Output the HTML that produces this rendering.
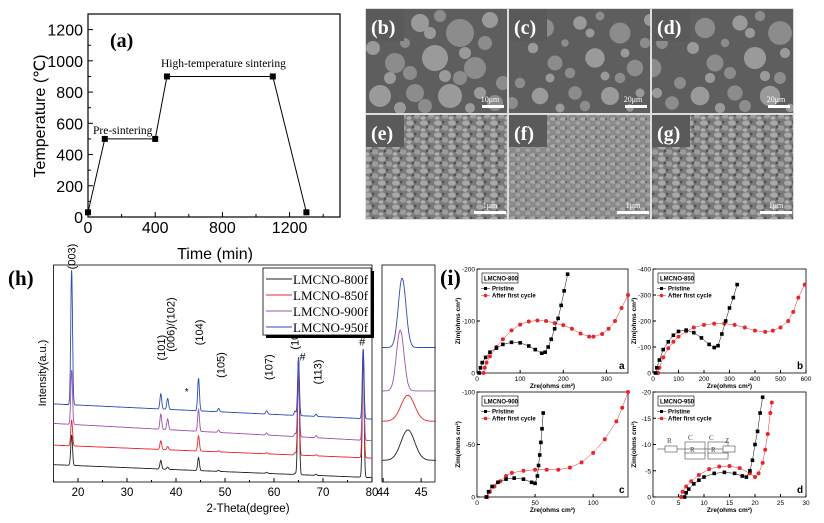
<!DOCTYPE html>
<html><head><meta charset="utf-8"><style>
html,body{margin:0;padding:0;background:#fff}
svg{display:block}
text{font-family:"Liberation Sans",sans-serif}
.serif{font-family:"Liberation Serif",serif}
</style></head><body>
<svg id="fig" width="824" height="523" viewBox="0 0 824 523" xmlns="http://www.w3.org/2000/svg">
<defs>
<pattern id="grain" width="14" height="12" patternUnits="userSpaceOnUse">
<rect width="14" height="12" fill="#7a7a7a"/>
<ellipse cx="4" cy="3" rx="4" ry="2.6" fill="#a8a8a8"/>
<ellipse cx="11" cy="8" rx="3.5" ry="2.8" fill="#9c9c9c"/>
<ellipse cx="3" cy="10" rx="2.5" ry="1.8" fill="#b0b0b0"/>
<circle cx="9" cy="2" r="1.5" fill="#555"/>
<circle cx="7" cy="7" r="1.3" fill="#505050"/>
</pattern>
<pattern id="grain2" width="10" height="9" patternUnits="userSpaceOnUse">
<rect width="10" height="9" fill="#8a8a8a"/>
<ellipse cx="3" cy="2" rx="3" ry="1.8" fill="#aaa"/>
<ellipse cx="8" cy="6" rx="2.5" ry="2" fill="#a3a3a3"/>
<circle cx="6" cy="2" r="1" fill="#5a5a5a"/>
</pattern>
</defs>
<g id="pa"></g>
<g id="sem"></g>
<g id="ph"></g>
<g id="pi"></g>
</svg>
<script>
// ---- Panel (a) data ----
const tempTime=[0,100,400,470,1100,1300];
const tempVal=[30,500,500,900,900,30];
const aXTicks=[0,400,800,1200];
const aYTicks=[0,200,400,600,800,1000,1200];
// ---- Panel (h) data ----
const xrdSeries=['LMCNO-800f','LMCNO-850f','LMCNO-900f','LMCNO-950f'];
const xrdColors=['#222','#e8262b','#a050b0','#2b4bb8'];
const xrdBaseStart=[0.08,0.17,0.27,0.36];
const xrdBaseEnd=[0.02,0.11,0.19,0.29];
const xrdPeakPos=[18.7,36.9,38.3,44.6,48.7,58.5,64.3,65.0,68.6,78.2];
const xrdPeaks800=[0.14,0.04,0.01,0.06,0.005,0.005,0.005,0.53,0.005,0.57];
const xrdPeaks850=[0.12,0.04,0.015,0.07,0.005,0.005,0.01,0.45,0.005,0.50];
const xrdPeaks900=[0.25,0.07,0.05,0.10,0.01,0.01,0.015,0.36,0.01,0.42];
const xrdPeaks950=[0.62,0.07,0.05,0.15,0.015,0.015,0.02,0.27,0.01,0.32];
const xrdTicks=[20,30,40,50,60,70,80];
const hklLabels=['(003)','(101)','(006)/(102)','(104)','(105)','(107)','(108)/(110)','(113)'];
const hklPos=[18.7,36.9,38.9,44.7,49.1,58.9,64.2,68.9];
const hklTop=[0.98,0.56,0.60,0.63,0.48,0.47,0.61,0.45];
const insetCenters=[44.65,44.65,44.45,44.5];
const insetBase=[0.10,0.28,0.42,0.62];
const insetHeights=[0.14,0.12,0.28,0.32];
// ---- Panel (i) data ----
const eisNames=['LMCNO-800','LMCNO-850','LMCNO-900','LMCNO-950'];
const eisLetters=['a','b','c','d'];
const eisXMax=[350,600,130,30];
const eisYMax=[200,400,100,20];
const eisXTicks=[[0,100,200,300],[0,100,200,300,400,500,600],[0,50,100],[0,5,10,15,20,25,30]];
const eisYTicks=[[0,-100,-200],[0,-100,-200,-300,-400],[0,-50,-100],[0,-5,-10,-15,-20]];
const pristineA=[[5,0],[8,10],[12,20],[20,30],[30,40],[45,48],[60,55],[80,59],[100,58],[120,52],[135,45],[150,38],[158,40],[165,50],[172,65],[180,85],[188,105],[195,130],[202,158],[210,190]];
const cycledA=[[15,0],[18,10],[22,20],[30,32],[45,50],[60,65],[80,82],[100,93],[120,99],[140,101],[160,100],[180,96],[200,92],[220,85],[240,76],[260,70],[270,70],[290,75],[305,85],[320,100],[335,125],[350,150]];
const pristineB=[[10,0],[15,20],[25,50],[40,90],[60,120],[80,145],[100,160],[130,165],[160,155],[190,135],[220,110],[240,98],[255,105],[270,150],[285,200],[300,250],[315,290],[330,340]];
const cycledB=[[20,0],[25,20],[40,60],[60,95],[80,120],[100,140],[130,160],[160,175],[200,185],[240,190],[280,190],[320,185],[360,175],[400,163],[440,158],[470,163],[500,175],[530,200],[550,235],[570,290],[595,340]];
const pristineC=[[8,0],[10,5],[13,10],[18,14],[25,17],[32,18],[40,17],[47,14],[50,13],[52,20],[53,30],[54,40],[55,52],[56,65],[57,80]];
const cycledC=[[9,0],[11,5],[15,10],[20,15],[25,20],[30,23],[40,25],[50,26],[60,26],[70,26],[80,28],[90,33],[100,42],[110,55],[120,72],[125,85],[130,100]];
const pristineD=[[6.2,0],[6.5,0.8],[7,1.5],[8,2.5],[9,3.2],[10,3.8],[12,4.5],[14,4.7],[16,4.5],[17.5,4],[18.3,3.8],[19,5],[19.5,7],[20,10],[20.5,12.5],[21,16],[21.5,19]];
const cycledD=[[5.5,0],[5.8,1],[6.5,2],[7.5,3],[9,4.2],[11,5.3],[13,5.8],[15,5.9],[17,5.5],[19,4.5],[20,3.8],[20.7,4.5],[21.5,6.5],[22,9],[22.5,12],[23,16],[23.3,18]];
const eisPristine=[pristineA,pristineB,pristineC,pristineD];
const eisCycled=[cycledA,cycledB,cycledC,cycledD];

const NS='http://www.w3.org/2000/svg';
function mk(parent,tag,attrs,txt){const e=document.createElementNS(NS,tag);for(const k in attrs)e.setAttribute(k,attrs[k]);if(txt!==undefined)e.textContent=txt;parent.appendChild(e);return e;}

// ===== Panel (a) =====
(function(){
const g=document.getElementById('pa');
const L=88,R=340,T=14,B=217;
const sx=v=>L+(v/1500)*(R-L), sy=v=>B-(v/1300)*(B-T);
let r=mk(g,'rect',{x:L,y:T,width:R-L,height:B-T,fill:'none',stroke:'#000','stroke-width':1.2});

for(let v=0;v<=1400;v+=200){mk(g,'line',{x1:sx(v),x2:sx(v),y1:B,y2:B+(v%400===0?-5:-3),stroke:'#000'});}
aXTicks.forEach(v=>{const t=mk(g,'text',{x:sx(v),y:B+16,'font-size':16,'text-anchor':'middle'},v);});
for(let v=0;v<=1300;v+=100){mk(g,'line',{x1:L,x2:L+(v%200===0?5:3),y1:sy(v),y2:sy(v),stroke:'#000'});}
aYTicks.forEach(v=>{const t=mk(g,'text',{x:L-5,y:sy(v)+6,'font-size':16,'text-anchor':'end'},v);});
let pts=tempTime.map((t,i)=>sx(t)+','+sy(tempVal[i])).join(' ');
let pl=mk(g,'polyline',{points:pts,fill:'none',stroke:'#000','stroke-width':1});

tempTime.forEach((t,i)=>{const m=mk(g,'rect',{x:sx(t)-3,y:sy(tempVal[i])-3,width:6,height:6,fill:'#000'});});
let t1=mk(g,'text',{x:110,y:47,'font-size':20,'font-weight':'bold',class:'serif'},'(a)');
let t2=mk(g,'text',{x:93,y:134,'font-size':11.5,class:'serif'},'Pre-sintering');
let t3=mk(g,'text',{x:161,y:67,'font-size':11.5,class:'serif'},'High-temperature sintering');
let t4=mk(g,'text',{x:215,y:259,'font-size':16,'text-anchor':'middle'},'Time (min)');
let t5=mk(g,'text',{x:0,y:0,'font-size':16,'text-anchor':'middle',transform:'translate(45,116) rotate(-90)'},'Temperature (\u2103)');
})();

// ===== SEM images =====
(function(){
const g=document.getElementById('sem');
const X0=365,Y0=8,W=143,H=106;
const labels=[['(b)','(c)','(d)'],['(e)','(f)','(g)']];
const scales=[['10\u03bcm','20\u03bcm','20\u03bcm'],['1\u03bcm','1\u03bcm','1\u03bcm']];
const blobs=[[20,20,12],[55,15,9],[95,25,14],[125,12,8],[30,55,10],[70,50,13],[110,60,11],[15,88,11],[50,85,9],[85,88,12],[130,95,8],[65,25,6],[40,35,5],[100,45,6],[120,35,7],[25,70,6],[95,70,7],[8,40,7],[45,65,7],[80,68,6],[138,75,7],[115,85,6],[60,98,7],[35,100,6],[75,8,6],[105,100,5]];
for(let r=0;r<2;r++)for(let c=0;c<3;c++){
 const x=X0+c*W,y=Y0+r*H;
 const p=mk(g,'g',{});
 if(r===0){mk(p,'rect',{x:x,y:y,width:W,height:H,fill:'#5e5e5e'});
  const cp=mk(p,'clipPath',{id:'sc'+c});mk(cp,'rect',{x:x,y:y,width:W,height:H});
  const gg=mk(p,'g',{'clip-path':'url(#sc'+c+')'});
  blobs.forEach((b,i)=>{const s=c===1?0.75:(c===2?0.85:1);mk(gg,'circle',{cx:x+((b[0]+c*17)%W),cy:y+b[1],r:b[2]*s,fill:i%2?'#9a9a9a':'#8c8c8c'});});
 } else mk(p,'rect',{x:x,y:y,width:W,height:H,fill:c===1?'url(#grain2)':'url(#grain)'});
 mk(p,'rect',{x:x+0.5,y:y+0.5,width:W-1,height:H-1,fill:'none',stroke:'#ddd','stroke-width':1});
 mk(p,'rect',{x:x+1,y:y+1,width:38,height:32,fill:'#5a5a5a'});
 mk(p,'text',{x:x+6,y:y+26,'font-size':20,'font-weight':'bold',fill:'#fff',class:'serif'},labels[r][c]);
 mk(p,'text',{x:x+W-18,y:y+H-12,'font-size':8,fill:'#fff','text-anchor':'middle',class:'serif'},scales[r][c]);
 mk(p,'rect',{x:x+W-(r?34:26),y:y+H-9,width:r?32:22,height:3,fill:'#fff'});
}
})();

// ===== Panel (h) =====
(function(){
const g=document.getElementById('ph');
const L=53.5,R=372,T=265,B=482,Hh=B-T;
const sx=v=>L+(v-15)*(R-L)/65, sy=f=>B-f*Hh;
mk(g,'rect',{x:L,y:T,width:R-L,height:B-T,fill:'none',stroke:'#000','stroke-width':0.8});
for(let v=15;v<=80;v+=5){mk(g,'line',{x1:sx(v),x2:sx(v),y1:B,y2:B-(v%10===0?4:2),stroke:'#000'});}
xrdTicks.forEach(v=>{const t=mk(g,'text',{x:sx(v),y:B+14,'font-size':11.5,'text-anchor':'middle'},v);});
const peaksAll=[xrdPeaks800,xrdPeaks850,xrdPeaks900,xrdPeaks950];
peaksAll.forEach((pk,si)=>{
 let d='';
 for(let v=15;v<=80;v+=0.05){
  let f=xrdBaseStart[si]+(xrdBaseEnd[si]-xrdBaseStart[si])*(v-15)/65;
  xrdPeakPos.forEach((p,i)=>{const w=0.18;f+=pk[i]*Math.exp(-((v-p)*(v-p))/(2*w*w));});
  d+=(d?'L':'M')+sx(v).toFixed(1)+','+sy(Math.min(f,0.99)).toFixed(1);
 }
 const path=mk(g,'path',{d:d,fill:'none',stroke:xrdColors[si],'stroke-width':0.9});
 
});
hklLabels.forEach((lb,i)=>{const t=mk(g,'text',{x:0,y:0,'font-size':11,transform:'translate('+(sx(hklPos[i])+4)+','+(sy(hklTop[i]))+') rotate(-90)'},lb);});
let hs=mk(g,'text',{x:sx(78.2)-4,y:sy(0.63),'font-size':11},'#');
let hs2=mk(g,'text',{x:sx(65.0)+1,y:sy(0.56),'font-size':11},'#');
mk(g,'text',{x:sx(42.2)-2,y:sy(0.40),'font-size':10},'*');
// legend
const lg=mk(g,'g',{});
mk(lg,'rect',{x:266,y:271,width:108,height:67,fill:'#000'});
mk(lg,'rect',{x:263,y:268,width:108,height:67,fill:'#fff',stroke:'#000','stroke-width':0.8});
xrdSeries.forEach((s,i)=>{const yy=279+i*16;mk(lg,'line',{x1:266,x2:292,y1:yy,y2:yy,stroke:xrdColors[i]});
 const t=mk(lg,'text',{x:293,y:yy+5,'font-size':13,class:'serif'},s);});
let ph=mk(g,'text',{x:8,y:285,'font-size':21,'font-weight':'bold',class:'serif'},'(h)');
let yt=mk(g,'text',{x:0,y:0,'font-size':11,'text-anchor':'middle',transform:'translate(46,373) rotate(-90)'},'Intensity(a.u.)');
let xt=mk(g,'text',{x:248,y:512,'font-size':11.5,'text-anchor':'middle'},'2-Theta(degree)');
// inset
const IL=382,IR=435;const ix=v=>IL+(v-43.97)*(421-383)/1;
mk(g,'rect',{x:IL,y:T,width:IR-IL,height:B-T,fill:'none',stroke:'#000','stroke-width':0.8});
[44,45].forEach(v=>{mk(g,'line',{x1:ix(v),x2:ix(v),y1:B,y2:B-4,stroke:'#000'});const t=mk(g,'text',{x:ix(v),y:B+14,'font-size':11.5,'text-anchor':'middle'},v);});
insetCenters.forEach((c,si)=>{let d='';for(let v=43.97;v<=45.4;v+=0.02){const w=si>1?0.1:0.18;const f=insetBase[si]+insetHeights[si]*Math.exp(-((v-c)*(v-c))/(2*w*w));d+=(d?'L':'M')+ix(v).toFixed(1)+','+sy(f).toFixed(1);}
 const p=mk(g,'path',{d:d,fill:'none',stroke:xrdColors[si],'stroke-width':0.9});});
})();

// ===== Panel (i) =====
(function(){
const g=document.getElementById('pi');
const boxes=[[477,269,628,373],[653,269,806,373],[477,392,628,497],[653,392,806,497]];
let pl=mk(g,'text',{x:440,y:285,'font-size':22,'font-weight':'bold',class:'serif'},'(i)');
boxes.forEach((bx,k)=>{
 const [L,T,R,B]=bx;const sg=mk(g,'g',{});
 const sx=v=>L+v/eisXMax[k]*(R-L), sy=v=>B-v/eisYMax[k]*(B-T);
 mk(sg,'rect',{x:L,y:T,width:R-L,height:B-T,fill:'none',stroke:'#000','stroke-width':0.8});
 eisXTicks[k].forEach(v=>{mk(sg,'line',{x1:sx(v),x2:sx(v),y1:B,y2:B-3,stroke:'#000'});const t=mk(sg,'text',{x:sx(v),y:B+8,'font-size':6.5,'text-anchor':'middle'},v);});
 eisYTicks[k].forEach(v=>{mk(sg,'line',{x1:L,x2:L+3,y1:sy(-v),y2:sy(-v),stroke:'#000'});const t=mk(sg,'text',{x:L-2,y:sy(-v)+2.5,'font-size':6.5,'text-anchor':'end'},v);});
 const clip='c'+k;const cp=mk(sg,'clipPath',{id:clip});mk(cp,'rect',{x:L,y:T,width:R-L,height:B-T});
 [[eisCycled[k],'#e8262b'],[eisPristine[k],'#000']].forEach(([arr,col],si)=>{
  const ln=mk(sg,'polyline',{points:arr.map(p=>sx(p[0])+','+sy(p[1])).join(' '),fill:'none',stroke:col,'stroke-width':0.5,'clip-path':'url(#'+clip+')'});
  
  arr.forEach(p=>{let m;if(si){m=mk(sg,'rect',{x:sx(p[0])-1.8,y:sy(p[1])-1.8,width:3.6,height:3.6,fill:col});}else{m=mk(sg,'circle',{cx:sx(p[0]),cy:sy(p[1]),r:2,fill:col});}
   });
 });
 mk(sg,'rect',{x:L+5,y:T+4,width:36,height:10,fill:'#fff',stroke:'#000','stroke-width':0.6});
 mk(sg,'text',{x:L+7,y:T+11.5,'font-size':6,'font-weight':'bold'},eisNames[k]);
 mk(sg,'rect',{x:L+7,y:T+18,width:3,height:3,fill:'#000'});mk(sg,'line',{x1:L+4,x2:L+13,y1:T+19.5,y2:T+19.5,stroke:'#000','stroke-width':0.5});
 mk(sg,'text',{x:L+15,y:T+21.5,'font-size':6,'font-weight':'bold'},'Pristine');
 mk(sg,'circle',{cx:L+8.5,cy:T+26.5,r:1.8,fill:'#e8262b'});mk(sg,'line',{x1:L+4,x2:L+13,y1:T+26.5,y2:T+26.5,stroke:'#e8262b','stroke-width':0.5});
 mk(sg,'text',{x:L+15,y:T+28.5,'font-size':6,'font-weight':'bold'},'After first cycle');
 const lt=mk(sg,'text',{x:R-9,y:B-4,'font-size':10,'font-weight':'bold'},eisLetters[k]);
 const xt=mk(sg,'text',{x:(L+R)/2,y:B+15,'font-size':6.5,'text-anchor':'middle','font-weight':'bold'},'Zre(ohms cm\u00b2)');
 const yt=mk(sg,'text',{x:0,y:0,'font-size':6.5,'text-anchor':'middle','font-weight':'bold',transform:'translate('+(L-17)+','+((T+B)/2)+') rotate(-90)'},'Zim(ohms cm\u00b2)');
});
const c=mk(g,'g',{stroke:'#666','stroke-width':0.7,fill:'none'});
mk(c,'line',{x1:657,x2:735,y1:449,y2:449});
mk(c,'rect',{x:665,y:446,width:12,height:6,fill:'#fff'});
mk(c,'rect',{x:685,y:442,width:20,height:14});mk(c,'rect',{x:708,y:442,width:20,height:14});
mk(c,'rect',{x:685,y:453,width:20,height:6,fill:'#fff'});mk(c,'rect',{x:708,y:453,width:20,height:6,fill:'#fff'});
mk(c,'rect',{x:723,y:446,width:12,height:6,fill:'#fff'});
[['R',667,443],['C',688,440],['R',690,452],['C',709,440],['R',711,452],['Z',725,443]].forEach(a=>mk(g,'text',{x:a[1],y:a[2],'font-size':7,class:'serif',fill:'#444'},a[0]));
})();
</script>
</body></html>
